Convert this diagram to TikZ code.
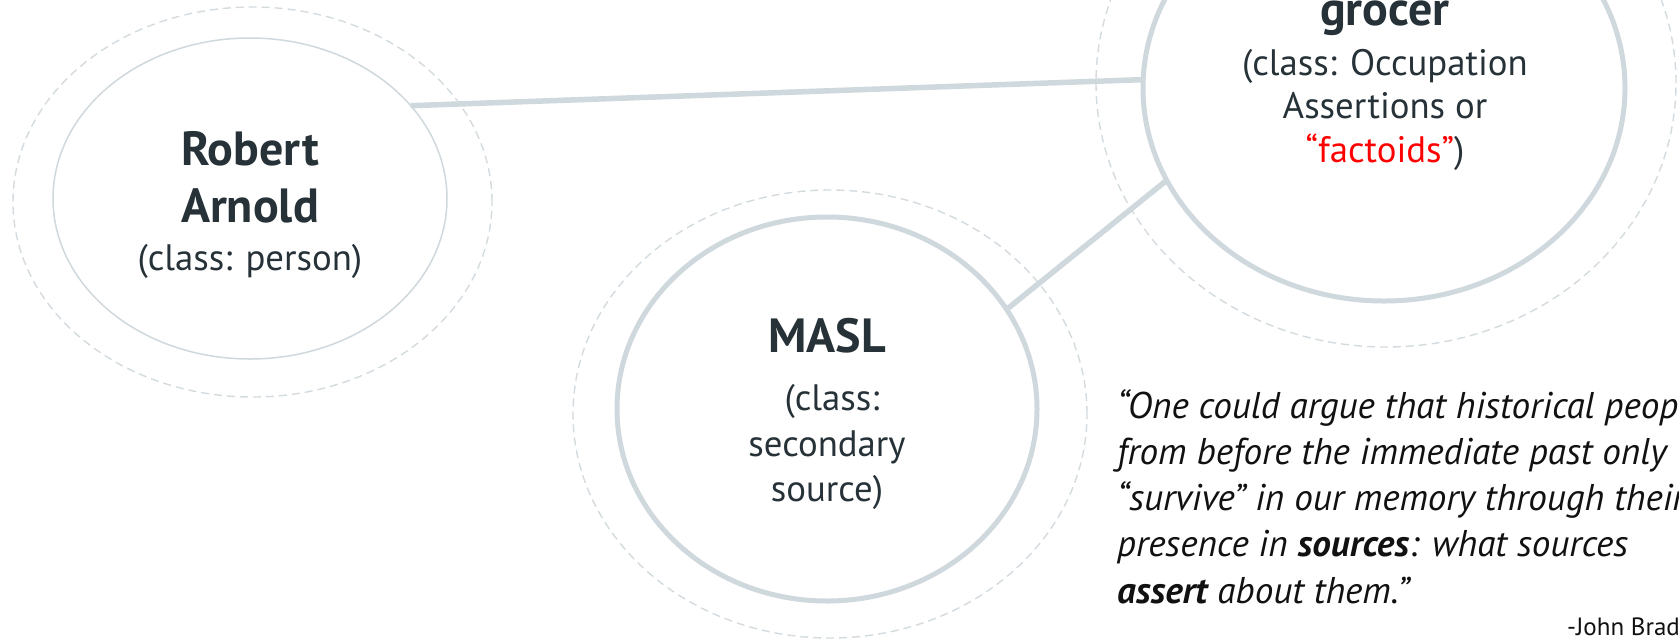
\documentclass[tikz,border=0pt]{standalone}
\usepackage{fontspec}
\setmainfont{PT Sans}
\usetikzlibrary{shapes.geometric}
\definecolor{ink}{HTML}{263238}
\definecolor{rim}{HTML}{CFD8DC}
\definecolor{haloline}{HTML}{D3DBDF}
\definecolor{hot}{HTML}{FF0000}
\definecolor{quoteink}{HTML}{111111}
\begin{document}
\begin{tikzpicture}[x=1pt,y=-1pt,
  ring/.style={ellipse, draw=rim, inner sep=0pt, outer sep=0pt},
  thinring/.style={ring, line width=1.5pt},
  thickring/.style={ring, line width=5pt},
  halo/.style={ellipse, draw=haloline, line width=1.4pt, dash pattern=on 8pt off 5pt, inner sep=0pt},
  link/.style={draw=rim, line width=5.5pt},
  nametext/.style={font=\fontsize{48}{57}\selectfont\bfseries, text=ink, inner sep=0pt, anchor=base},
  classtext/.style={font=\fontsize{36.8}{45}\selectfont, text=ink, inner sep=0pt, anchor=base},
  quotetext/.style={font=\fontsize{37.2}{46}\selectfont\itshape, text=quoteink, inner sep=0pt, anchor=base west},
  authortext/.style={font=\fontsize{25}{30}\selectfont, text=quoteink, inner sep=0pt, anchor=base west},
]
\useasboundingbox (0,0) rectangle (1679,641);
\clip (0,0) rectangle (1679,641);

% dashed halos round the three entities
\node[halo, minimum width=479pt, minimum height=390pt] (roberthalo) at (252.5,202) {};
\node[halo, minimum width=580pt, minimum height=528pt] (grocerhalo) at (1386,83) {};
\node[halo, minimum width=514pt, minimum height=448pt] (maslhalo) at (830,414) {};

% the entities
\node[thinring, minimum width=394pt, minimum height=321pt] (robert) at (250,198.5) {};
\node[thickring, minimum width=482pt, minimum height=426pt] (grocer) at (1384,88) {};
\node[thickring, minimum width=420pt, minimum height=384pt] (masl) at (827,409) {};

% relations
\draw[link] (robert.30) -- (grocer.178);
\draw[link] (masl.29) -- (grocer.203);

% person
\node[nametext] (robertl1) at (250,165) {Robert};
\node[nametext] (robertl2) at (250,222) {Arnold};
\node[classtext] (robertcl) at (250,270) {(class: person)};

% factoid
\node[nametext] (grocerl1) at (1385,25) {grocer};
\node[classtext] (grocercl1) at (1385,75) {(class: Occupation};
\node[classtext] (grocercl2) at (1385,118) {Assertions or};
\node[classtext] (grocercl3) at (1385,162) {\textcolor{hot}{“factoids”})};

% source
\node[nametext] (masll1) at (827,352) {MASL};
\node[classtext] (maslcl1) at (832,410) {(class:};
\node[classtext] (maslcl2) at (827,456.5) {secondary};
\node[classtext] (maslcl3) at (827,501.5) {source)};

% quotation
\node[quotetext] (q1) at (1117,418) {“One could argue that historical people};
\node[quotetext] (q2) at (1117,464.3) {from before the immediate past only};
\node[quotetext] (q3) at (1117,510.6) {“survive” in our memory through their};
\node[quotetext] (q4) at (1117,556.9) {presence in \textbf{sources}: what sources};
\node[quotetext] (q5) at (1117,603.2) {\textbf{assert} about them.”};
\node[authortext] (author) at (1567,635) {-John Bradley};
\end{tikzpicture}
\end{document}
